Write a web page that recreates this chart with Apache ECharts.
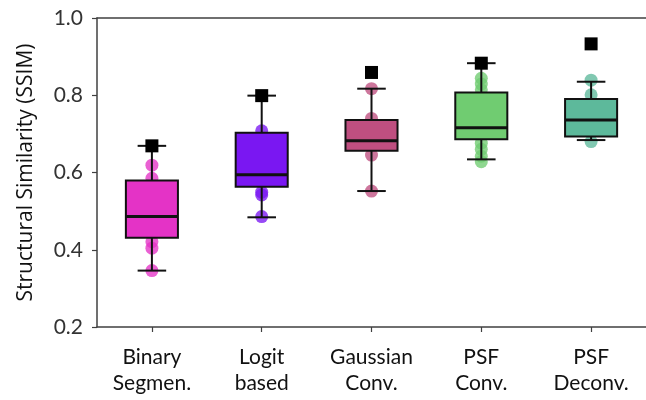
<!DOCTYPE html>
<html>
<head>
<meta charset="utf-8">
<script src="https://cdn.jsdelivr.net/npm/echarts@6/dist/echarts.min.js"></script>
<style>html,body{margin:0;padding:0;background:#fff}#c{width:646px;height:400px}</style>
</head>
<body>
<div id="c"></div>
<script>
// ---- data ----
const categories = ['Binary\nSegmen.', 'Logit\nbased', 'Gaussian\nConv.', 'PSF\nConv.', 'PSF\nDeconv.'];
const whiskerLow  = [0.346, 0.484, 0.552, 0.634, 0.684];
const q1          = [0.431, 0.563, 0.656, 0.686, 0.693];
const median      = [0.486, 0.594, 0.682, 0.716, 0.736];
const q3          = [0.579, 0.703, 0.736, 0.807, 0.790];
const whiskerHigh = [0.669, 0.799, 0.817, 0.883, 0.835];
const bestValues  = [0.669, 0.799, 0.859, 0.883, 0.933];
const pointsBinary   = [0.619, 0.585, 0.421, 0.404, 0.346];
const pointsLogit    = [0.708, 0.549, 0.542, 0.486];
const pointsGaussian = [0.817, 0.740, 0.645, 0.552];
const pointsPsfConv  = [0.844, 0.829, 0.814, 0.676, 0.660, 0.642, 0.628];
const pointsPsfDeconv= [0.839, 0.801, 0.680];
const yTicks = [0.2, 0.4, 0.6, 0.8, 1.0];

const colors = ['#E433C6', '#7A17F2', '#BF4F80', '#70CC71', '#5DB99B'];
const pointGroups = [pointsBinary, pointsLogit, pointsGaussian, pointsPsfConv, pointsPsfDeconv];

const boxData = categories.map((c, i) => [i, whiskerLow[i], q1[i], median[i], q3[i], whiskerHigh[i]]);
const dotData = [];
pointGroups.forEach((g, i) => g.forEach(v => dotData.push({value: [i, v], itemStyle: {color: colors[i]}})));
const bestData = bestValues.map((v, i) => [i, v]);

const font = 'Lato, "Open Sans", sans-serif';
const axisColor = '#404040';

const chart = echarts.init(document.getElementById('c'), null, {renderer: 'canvas'});
chart.setOption({
  animation: false,
  backgroundColor: '#fff',
  grid: {left: 97, top: 18, width: 559, height: 309, containLabel: false},
  xAxis: [{
    type: 'category', data: categories, position: 'bottom',
    axisLine: {show: true, lineStyle: {color: axisColor, width: 1.5}},
    axisTick: {show: true, alignWithLabel: true, length: 5, lineStyle: {color: axisColor, width: 1.2}},
    axisLabel: {fontFamily: font, fontSize: 21, color: '#111', lineHeight: 26, margin: 17, interval: 0},
    splitLine: {show: false}
  }, {
    type: 'category', data: categories, position: 'top',
    axisLine: {show: true, lineStyle: {color: axisColor, width: 1.5}},
    axisTick: {show: false}, axisLabel: {show: false}
  }],
  yAxis: {
    type: 'value', min: yTicks[0], max: yTicks[yTicks.length - 1], interval: 0.2,
    name: 'Structural Similarity (SSIM)', nameLocation: 'middle', nameRotate: 90, nameGap: 60,
    nameTextStyle: {fontFamily: '"Open Sans", sans-serif', fontSize: 21, color: '#111'},
    axisLine: {show: true, lineStyle: {color: axisColor, width: 1.5}},
    axisTick: {show: true, length: 5, lineStyle: {color: axisColor, width: 1.2}},
    axisLabel: {fontFamily: font, fontSize: 21, color: '#333', margin: 14, formatter: v => v.toFixed(1)},
    splitLine: {show: false}
  },
  series: [{
    type: 'scatter', data: dotData, symbol: 'circle', symbolSize: 13,
    itemStyle: {opacity: 0.78}, z: 1
  }, {
    type: 'custom', z: 2, data: boxData,
    renderItem: function (params, api) {
      const i = api.value(0);
      const band = api.size([1, 0])[0];
      const hw = band * 0.237, cw = band * 0.13;
      const pLow = api.coord([i, api.value(1)]);
      const pQ1 = api.coord([i, api.value(2)]);
      const pMed = api.coord([i, api.value(3)]);
      const pQ3 = api.coord([i, api.value(4)]);
      const pHigh = api.coord([i, api.value(5)]);
      const x = pMed[0];
      const ls = {stroke: '#111', lineWidth: 2};
      return {type: 'group', children: [
        {type: 'line', shape: {x1: x, y1: pQ1[1], x2: x, y2: pLow[1]}, style: ls},
        {type: 'line', shape: {x1: x, y1: pQ3[1], x2: x, y2: pHigh[1]}, style: ls},
        {type: 'line', shape: {x1: x - cw, y1: pLow[1], x2: x + cw, y2: pLow[1]}, style: ls},
        {type: 'line', shape: {x1: x - cw, y1: pHigh[1], x2: x + cw, y2: pHigh[1]}, style: ls},
        {type: 'rect', shape: {x: x - hw, y: pQ3[1], width: 2 * hw, height: pQ1[1] - pQ3[1]},
          style: {fill: colors[i], stroke: '#111', lineWidth: 2}},
        {type: 'line', shape: {x1: x - hw, y1: pMed[1], x2: x + hw, y2: pMed[1]}, style: {stroke: '#111', lineWidth: 3}}
      ]};
    }
  }, {
    type: 'scatter', data: bestData, symbol: 'rect', symbolSize: 13,
    itemStyle: {color: '#000', opacity: 1}, z: 3
  }]
});
</script>
</body>
</html>
